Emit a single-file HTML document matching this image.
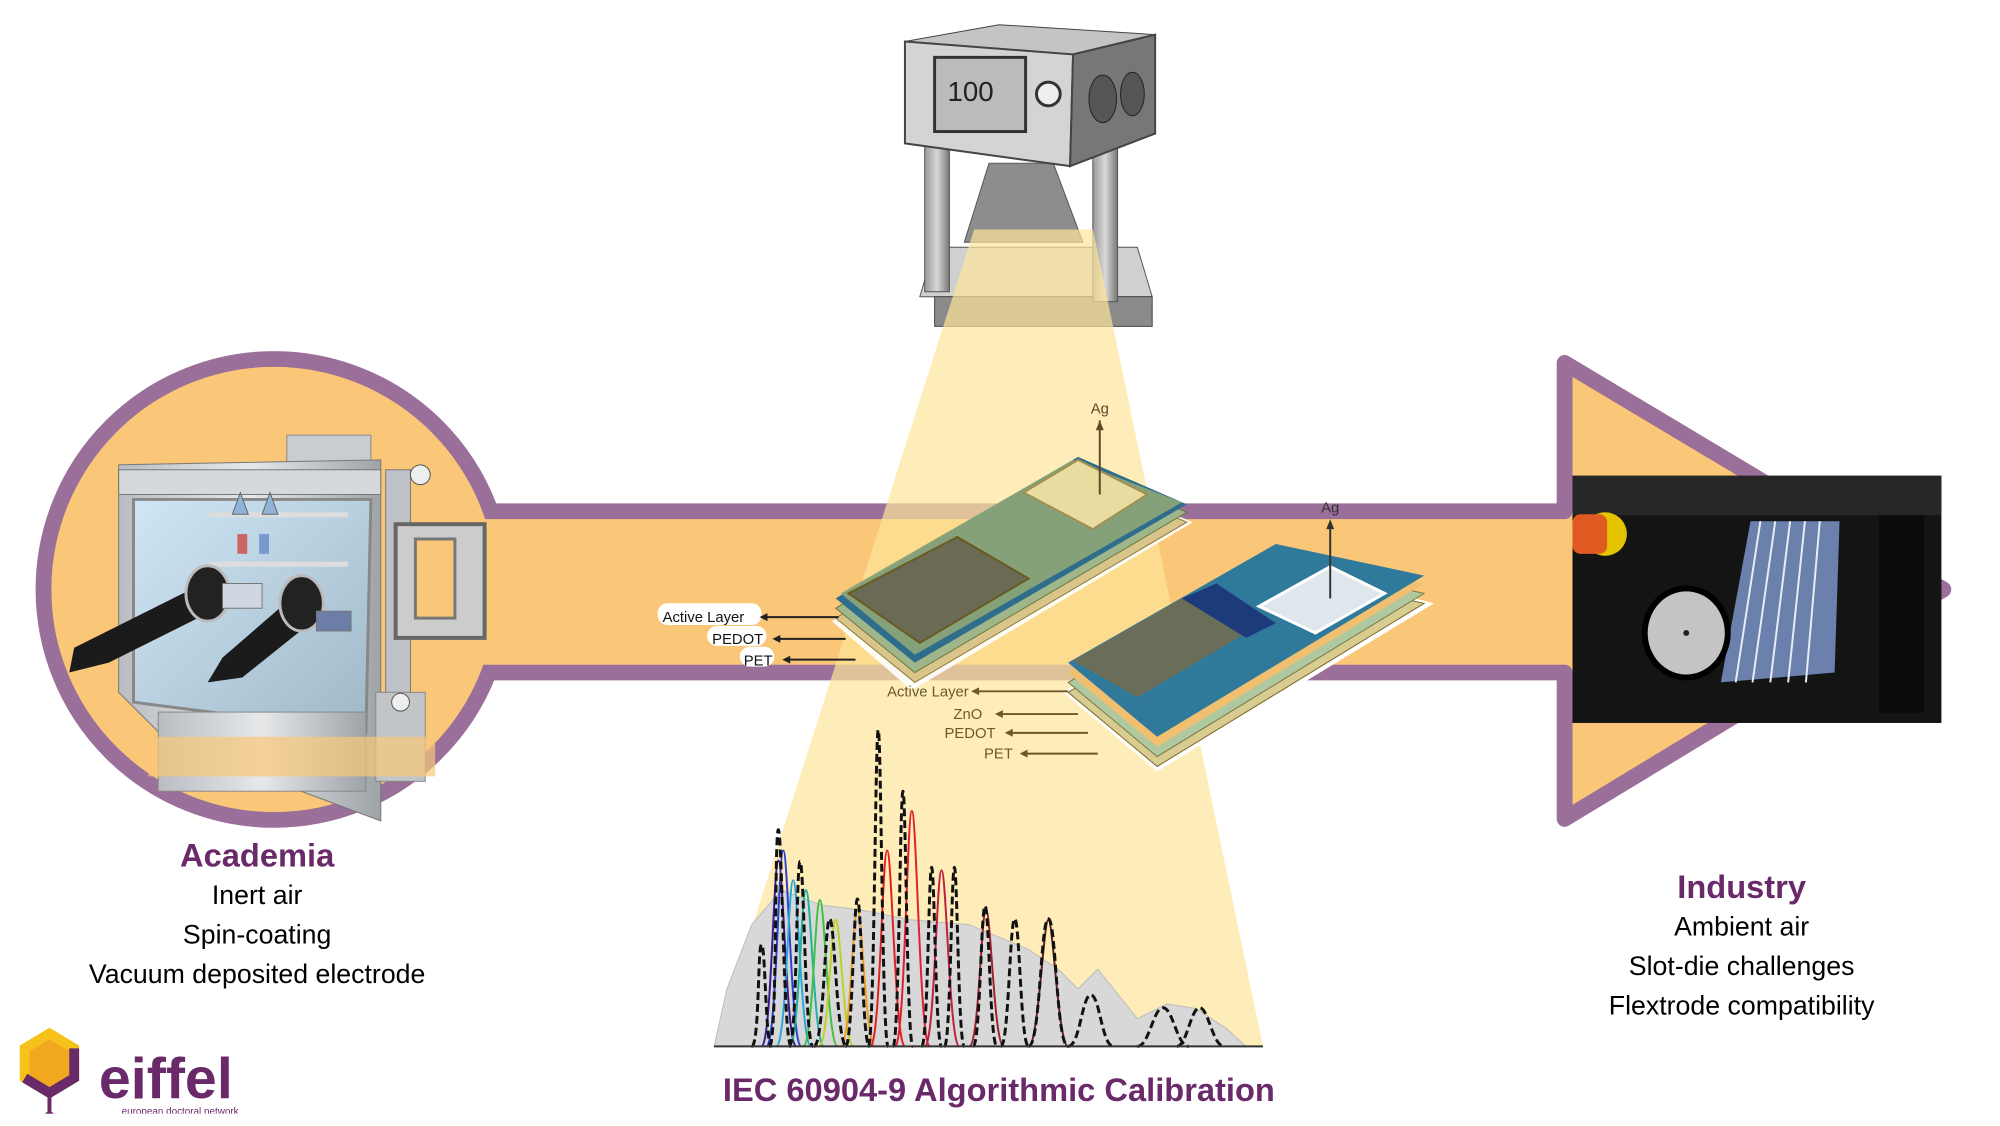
<!DOCTYPE html>
<html><head><meta charset="utf-8"><style>
html,body{margin:0;padding:0;background:#fff;}
body{width:2000px;height:1126px;overflow:hidden;position:relative;font-family:"Liberation Sans",sans-serif;}
#wrap{position:absolute;left:0;top:0;width:2000px;height:1126px;transform:scale(0.989);transform-origin:0 0;}
.t{position:absolute;text-align:center;color:#000;font-size:27px;line-height:40px;}
.h{color:#6a2a6a;font-weight:bold;font-size:33px;}
</style></head><body><div id="wrap">
<svg width="2000" height="1126" viewBox="0 0 2000 1126" style="position:absolute;left:0;top:0">
<defs>
<linearGradient id="steel" x1="0" x2="1"><stop offset="0" stop-color="#b9bdc2"/><stop offset=".5" stop-color="#e6e8ea"/><stop offset="1" stop-color="#9ea3a8"/></linearGradient>
<linearGradient id="glass" x1="0" y1="0" x2="1" y2="1"><stop offset="0" stop-color="#cfe6f5"/><stop offset="1" stop-color="#9fb8c8"/></linearGradient>
<linearGradient id="gray" x1="0" x2="1"><stop offset="0" stop-color="#9a9a9a"/><stop offset=".5" stop-color="#d8d8d8"/><stop offset="1" stop-color="#777"/></linearGradient>
</defs>
<g stroke="#9a6f99" stroke-width="16" stroke-linejoin="round">
<circle cx="277" cy="596" r="233" fill="#fac778"/>
<path d="M482 517 L1582 517 L1582 367 L1965 596 L1582 828 L1582 680 L482 680 Z" fill="#fac778"/>
</g>
<circle cx="277" cy="596" r="225" fill="#fac778"/>
<rect x="470" y="525" width="1120" height="147" fill="#fac778"/>
<g>
<rect x="290" y="440" width="85" height="40" fill="#c9ccd0" stroke="#888"/>
<polygon points="120,470 385,465 385,830 170,750 120,700" fill="url(#steel)" stroke="#777"/>
<rect x="120" y="475" width="265" height="25" fill="#d6d9dc" stroke="#777"/>
<polygon points="135,505 375,505 370,740 135,710" fill="url(#glass)" stroke="#888" stroke-width="3"/>
<rect x="212" y="518" width="140" height="5" fill="#ddd"/>
<rect x="212" y="568" width="140" height="5" fill="#ddd"/>
<path d="M235 520 l8 -22 l8 22z M265 520 l8 -22 l8 22z" fill="#8fb4d8" stroke="#666"/>
<rect x="240" y="540" width="10" height="20" fill="#c66"/><rect x="262" y="540" width="10" height="20" fill="#79c"/>
<rect x="390" y="475" width="25" height="270" fill="#bfc3c7" stroke="#777"/>
<rect x="400" y="530" width="90" height="115" fill="#ccc" stroke="#666" stroke-width="4"/>
<rect x="420" y="545" width="40" height="80" fill="#fac778" stroke="#777" stroke-width="3"/>
<circle cx="425" cy="480" r="10" fill="#eee" stroke="#555"/>
<rect x="160" y="720" width="210" height="80" fill="url(#steel)" stroke="#888"/>
<rect x="380" y="700" width="50" height="90" fill="#c2c5c8" stroke="#888"/>
<circle cx="405" cy="710" r="9" fill="#eee" stroke="#555"/>
<path d="M205 590 L75 655 L70 680 L110 670 L220 615 Z" fill="#1b1b1b"/>
<path d="M300 600 L225 665 L210 690 L245 685 L320 625 Z" fill="#1b1b1b"/>
<ellipse cx="210" cy="600" rx="22" ry="28" fill="#222" stroke="#bbb" stroke-width="3"/>
<ellipse cx="305" cy="610" rx="22" ry="28" fill="#222" stroke="#bbb" stroke-width="3"/>
<rect x="225" y="590" width="40" height="25" fill="#cfd8e0" stroke="#777"/>
<rect x="320" y="618" width="35" height="20" fill="#6c7ea8" stroke="#777"/>
<rect x="150" y="745" width="290" height="40" fill="#fac778" opacity=".7"/>
</g>
<g>
<rect x="1590" y="481" width="373" height="250" fill="#141414"/>
<rect x="1590" y="481" width="373" height="40" fill="#262626"/>
<rect x="1900" y="521" width="45" height="200" fill="#0b0b0b"/>
<circle cx="1623" cy="540" r="22" fill="#e4c400"/>
<rect x="1590" y="520" width="35" height="40" rx="8" fill="#e05a22"/>
<path d="M1770 527 L1860 527 L1855 680 L1740 690 Z" fill="#7b93c9" opacity=".85"/>
<g stroke="#e8ecf5" stroke-width="2"><line x1="1780" y1="527" x2="1755" y2="690"/><line x1="1795" y1="527" x2="1772" y2="690"/><line x1="1810" y1="527" x2="1790" y2="690"/><line x1="1825" y1="527" x2="1808" y2="690"/><line x1="1840" y1="527" x2="1826" y2="690"/></g>
<ellipse cx="1705" cy="640" rx="42" ry="45" fill="#c4c4c4" stroke="#000" stroke-width="6"/>
<ellipse cx="1705" cy="640" rx="3" ry="3" fill="#222"/>
</g>
<g>
<polygon points="945,250 1150,250 1165,300 930,300" fill="#d0d0d0" stroke="#555"/>
<rect x="945" y="300" width="220" height="30" fill="#8a8a8a" stroke="#444"/>
<rect x="935" y="140" width="25" height="155" fill="url(#gray)" stroke="#555"/>
<rect x="1105" y="150" width="25" height="155" fill="url(#gray)" stroke="#555"/>
<polygon points="1000,165 1065,165 1095,245 975,245" fill="#8d8d8d" stroke="#555"/>
<polygon points="915,42 1010,25 1168,35 1085,55" fill="#c4c4c4" stroke="#444"/>
<polygon points="915,42 1085,55 1082,168 915,145" fill="#d4d4d4" stroke="#444" stroke-width="2"/>
<polygon points="1085,55 1168,35 1168,135 1082,168" fill="#777" stroke="#444" stroke-width="2"/>
<rect x="945" y="58" width="92" height="75" fill="#bbb" stroke="#333" stroke-width="3"/>
<text x="958" y="102" font-size="28" font-family="Liberation Sans" fill="#222">100</text>
<circle cx="1060" cy="95" r="12" fill="#eee" stroke="#333" stroke-width="3"/>
<ellipse cx="1115" cy="100" rx="14" ry="24" fill="#555" stroke="#222"/>
<ellipse cx="1145" cy="95" rx="12" ry="22" fill="#555" stroke="#222"/>
</g>
<polygon points="985,232 1105,232 1277,1058 722,1058" fill="#fde59a" opacity=".7"/>
<g>
<path d="M722 1058 L735 1000 L760 935 L790 900 L830 915 L870 920 L920 930 L980 935 L1040 960 L1070 980 L1090 1000 L1110 980 L1150 1030 L1180 1015 L1210 1020 L1240 1040 L1260 1058 Z" fill="#d8d8d8" stroke="#bbb"/>
<g fill="none" stroke-width="2">
<path d="M770 1058 C780 1058 782 870 787 870 C792 870 795 1058 805 1058" stroke="#3a1d8a"/>
<path d="M775 1058 C785 1058 787 860 792 860 C797 860 800 1058 810 1058" stroke="#2d40d0"/>
<path d="M785 1058 C795 1058 797 890 802 890 C807 890 810 1058 820 1058" stroke="#2aa8d8"/>
<path d="M798 1058 C808 1058 810 900 815 900 C820 900 823 1058 833 1058" stroke="#20b0a0"/>
<path d="M812 1058 C822 1058 824 910 829 910 C834 910 837 1058 847 1058" stroke="#40c040"/>
<path d="M828 1058 C838 1058 840 930 845 930 C850 930 853 1058 863 1058" stroke="#c0d020"/>
<path d="M850 1058 C860 1058 862 920 867 920 C872 920 875 1058 885 1058" stroke="#f0a020"/>
<path d="M880 1058 C890 1058 892 860 897 860 C902 860 905 1058 915 1058" stroke="#e02020"/>
<path d="M905 1058 C915 1058 917 820 922 820 C927 820 930 1058 940 1058" stroke="#e02030"/>
<path d="M935 1058 C945 1058 947 880 952 880 C957 880 960 1058 970 1058" stroke="#c02040"/>
<path d="M980 1058 C990 1058 992 920 997 920 C1002 920 1005 1058 1015 1058" stroke="#a02030"/>
<path d="M1040 1058 C1050 1058 1055 930 1060 930 C1065 930 1070 1058 1080 1058" stroke="#602020"/>
</g>
<g fill="none" stroke="#111" stroke-width="3" stroke-dasharray="8 4">
<path d="M760 1058 C768 1058 766 955 770 955 C774 955 774 1058 780 1058"/>
<path d="M778 1058 C786 1058 783 839 787 839 C791 839 792 1058 800 1058"/>
<path d="M798 1058 C806 1058 805 871 809 871 C813 871 814 1058 822 1058"/>
<path d="M823 1058 C833 1058 834 929 839 929 C844 929 846 1058 856 1058"/>
<path d="M855 1058 C862 1058 863 909 867 909 C871 909 872 1058 879 1058"/>
<path d="M878 1058 C884 1058 885 738 888 738 C891 738 892 1058 898 1058"/>
<path d="M903 1058 C909 1058 910 800 913 800 C916 800 917 1058 923 1058"/>
<path d="M932 1058 C938 1058 939 877 942 877 C945 877 946 1058 952 1058"/>
<path d="M955 1058 C961 1058 962 877 965 877 C968 877 969 1058 975 1058"/>
<path d="M984 1058 C991 1058 992 916 996 916 C1000 916 1001 1058 1008 1058"/>
<path d="M1012 1058 C1020 1058 1021 929 1026 929 C1031 929 1032 1058 1040 1058"/>
<path d="M1040 1058 C1052 1058 1052 929 1060 929 C1068 929 1068 1058 1080 1058"/>
<path d="M1080 1058 C1092 1058 1094 1006 1103 1006 C1112 1006 1114 1058 1126 1058"/>
<path d="M1150 1058 C1162 1058 1166 1019 1176 1019 C1186 1019 1190 1058 1202 1058"/>
<path d="M1190 1058 C1200 1058 1204 1019 1213 1019 C1222 1019 1226 1058 1238 1058"/>
</g>
<line x1="722" y1="1058" x2="1277" y2="1058" stroke="#333" stroke-width="2"/>
</g>
<g>
<polygon points="841,628 1090,478 1206,528 922,698" fill="#fff" opacity=".9"/>
<polygon points="845,625 1090,480 1200,528 925,690" fill="#d9c48a" stroke="#8a7a3a"/>
<polygon points="845,615 1090,470 1200,518 925,680" fill="#9fb58a" stroke="#6a7a3a"/>
<polygon points="845,605 1090,462 1200,510 925,670" fill="#2f6d8c"/>
<polygon points="850,600 1085,465 1195,508 925,662" fill="#8aa478" opacity=".95"/>
<polygon points="858,600 968,543 1040,585 930,650" fill="#6b6b55" stroke="#6a5a20" stroke-width="2"/>
<polygon points="1035,498 1090,465 1160,500 1105,535" fill="#e8dca0" stroke="#a09050" stroke-width="2"/>
<line x1="1112" y1="500" x2="1112" y2="425" stroke="#5a4a2a" stroke-width="2"/>
<polygon points="1112,425 1108,435 1116,435" fill="#5a4a2a"/>
<text x="1112" y="418" font-size="15" text-anchor="middle" fill="#5a4a2a">Ag</text>
</g>
<g>
<polygon points="1075,700 1290,570 1450,610 1170,780" fill="#fff"/>
<polygon points="1080,700 1290,578 1440,610 1170,775" fill="#d9cc90" stroke="#7a6a2a"/>
<polygon points="1080,690 1290,568 1440,600 1170,765" fill="#b0c8a0" stroke="#7a7a4a"/>
<polygon points="1080,680 1290,558 1440,590 1170,755" fill="#f0c070"/>
<polygon points="1080,670 1290,550 1440,582 1170,745" fill="#2f7a9a"/>
<polygon points="1085,668 1195,605 1260,640 1150,705" fill="#6e6e55" opacity=".95"/>
<polygon points="1195,605 1230,590 1290,630 1260,645" fill="#1d3a7a"/>
<polygon points="1273,613 1345,573 1400,600 1330,640" fill="#dfe6ec" stroke="#fff" stroke-width="3"/>
<line x1="1345" y1="605" x2="1345" y2="528" stroke="#333" stroke-width="2"/>
<polygon points="1345,525 1341,535 1349,535" fill="#333"/>
<text x="1345" y="518" font-size="15" text-anchor="middle" fill="#333">Ag</text>
</g>
<g font-size="15" fill="#111">
<rect x="665" y="610" width="105" height="22" rx="10" fill="#fff"/>
<rect x="715" y="633" width="60" height="20" rx="10" fill="#fff"/>
<rect x="748" y="654" width="35" height="20" rx="10" fill="#fff"/>
<text x="670" y="629">Active Layer</text>
<text x="720" y="651">PEDOT</text>
<text x="752" y="673">PET</text>
<g stroke="#222" stroke-width="2"><line x1="772" y1="624" x2="848" y2="624"/><line x1="785" y1="646" x2="855" y2="646"/><line x1="795" y1="667" x2="865" y2="667"/></g>
<g fill="#222"><polygon points="768,624 776,620 776,628"/><polygon points="781,646 789,642 789,650"/><polygon points="791,667 799,663 799,671"/></g>
</g>
<g font-size="15" fill="#6a5a2a">
<text x="897" y="704">Active Layer</text>
<text x="964" y="727">ZnO</text>
<text x="955" y="746">PEDOT</text>
<text x="995" y="767">PET</text>
<g stroke="#6a5a2a" stroke-width="2"><line x1="986" y1="699" x2="1080" y2="699"/><line x1="1010" y1="722" x2="1090" y2="722"/><line x1="1020" y1="741" x2="1100" y2="741"/><line x1="1035" y1="762" x2="1110" y2="762"/></g>
<g fill="#6a5a2a"><polygon points="982,699 990,695 990,703"/><polygon points="1006,722 1014,718 1014,726"/><polygon points="1016,741 1024,737 1024,745"/><polygon points="1031,762 1039,758 1039,766"/></g>
</g>
<g>
<polygon points="50,1045 75,1060 75,1090 50,1105 25,1090 25,1060" fill="#f2a81e" stroke="#f6c21a" stroke-width="10"/>
<path d="M25 1090 L50 1105 L75 1090 L75 1060" fill="none" stroke="#6a2a6a" stroke-width="10"/>
<circle cx="50" cy="1130" r="6" fill="#6a2a6a"/><line x1="50" y1="1108" x2="50" y2="1128" stroke="#6a2a6a" stroke-width="4"/>
<text x="100" y="1110" font-size="58" font-weight="bold" fill="#6a2a6a" font-family="Liberation Sans">eiffel</text>
<text x="123" y="1127" font-size="10" fill="#6a2a6a">european doctoral network</text>
</g>
</svg>
<div class="t" style="left:60px;width:400px;top:845px"><div class="h">Academia</div>Inert air<br>Spin-coating<br>Vacuum deposited electrode</div>
<div class="t" style="left:1561px;width:400px;top:877px"><div class="h">Industry</div>Ambient air<br>Slot-die challenges<br>Flextrode compatibility</div>
<div class="t h" style="left:660px;width:700px;top:1082px">IEC 60904-9 Algorithmic Calibration</div>
</div></body></html>
